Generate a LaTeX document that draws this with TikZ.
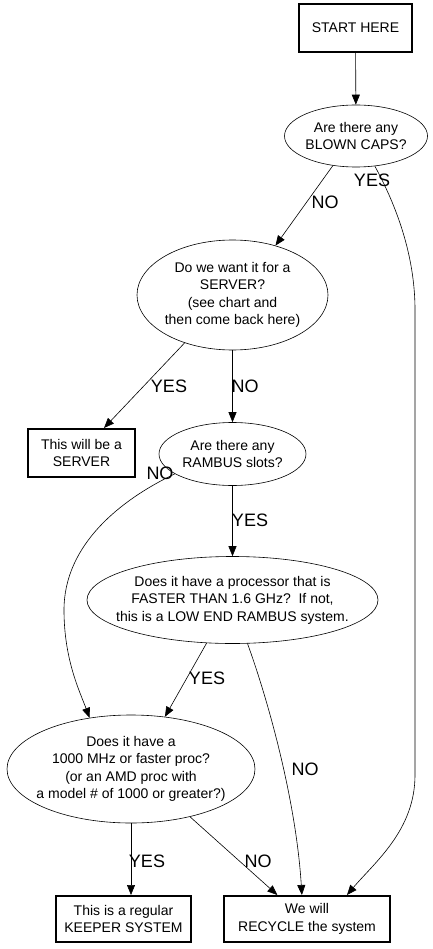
\documentclass[tikz,border=0pt]{standalone}
\usepackage{fontspec}
\setmainfont{Liberation Sans}
\usepackage{tikz}
\usetikzlibrary{arrows.meta,shapes.geometric}

\begin{document}
\begin{tikzpicture}[x=1pt, y=-1pt, >={Triangle[length=10pt,width=8pt]}, line width=0.6pt]
\tikzstyle{q}=[ellipse,draw,inner xsep=-50pt,inner ysep=0pt,align=center,font=\fontsize{14}{17.5}\selectfont]
\tikzstyle{box}=[rectangle,draw,line width=2pt,inner sep=0pt,align=center,font=\fontsize{14}{17.5}\selectfont]
\tikzstyle{lbl}=[inner sep=0pt,font=\fontsize{18}{18}\selectfont]
\useasboundingbox (0,0) rectangle (433,949);
% questions
\node[box,minimum width=113pt,minimum height=48pt] (start) at (355.5,28) {START HERE};
\node[q,minimum width=143pt,minimum height=62pt] (caps) at (356,136) {Are there any\\BLOWN CAPS?};
\node[q,minimum width=191pt,minimum height=110pt] (srvq) at (232.5,295) {Do we want it for a\\SERVER?\\(see chart and\\then come back here)};
\node[q,minimum width=147pt,minimum height=63pt] (rambus) at (232.5,454) {Are there any\\RAMBUS slots?};
\node[q,minimum width=291pt,minimum height=87pt] (proc) at (232.5,600) {Does it have a processor that is\\FASTER THAN 1.6 GHz?\ \ If not,\\this is a LOW END RAMBUS system.};
\node[q,minimum width=248pt,minimum height=108pt] (mhz) at (131,769) {Does it have a\\1000 MHz or faster proc?\\(or an AMD proc with\\a model \# of 1000 or greater?)};
% results
\node[box,minimum width=107pt,minimum height=48pt] (server) at (81.5,453) {This will be a\\SERVER};
\node[box,minimum width=135pt,minimum height=46pt] (keeper) at (123.5,919) {This is a regular\\KEEPER SYSTEM};
\node[box,minimum width=166pt,minimum height=46pt] (recycle) at (307,919) {We will\\RECYCLE the system};
% edges
\draw[->] (start) -- (caps);
\draw[->] (caps.232) -- (srvq.49) node[lbl] (no1) at (325,202) {NO};
\draw[->] (caps.-58) .. controls (396,205) and (415,255) .. (415,310) -- (415,775)
  .. controls (415,830) and (375,862) .. (recycle.31) node[lbl] (yes1) at (372,180) {YES};
\draw[->] (srvq.225) -- (server.48) node[lbl] (yes2) at (169,386) {YES};
\draw[->] (srvq) -- (rambus) node[lbl] (no2) at (245,386) {NO};
\draw[->] (rambus.199) .. controls (120,500) and (64,545) .. (64,610)
  .. controls (64,660) and (80,692) .. (mhz.129) node[lbl] (no3) at (160,473) {NO};
\draw[->] (rambus) -- (proc) node[lbl] (yes3) at (250,520) {YES};
\draw[->] (proc.239) -- (mhz.57) node[lbl] (yes4) at (207,678) {YES};
\draw[->] (proc.-71) .. controls (268,700) and (296,800) .. (recycle.102) node[lbl] (no4) at (305,769) {NO};
\draw[->] (mhz.south) -- (mhz.south |- keeper.north) node[lbl] (yes5) at (147,861) {YES};
\draw[->] (mhz.-39) -- (recycle.141) node[lbl] (no5) at (258,861) {NO};
\end{tikzpicture}
\end{document}
